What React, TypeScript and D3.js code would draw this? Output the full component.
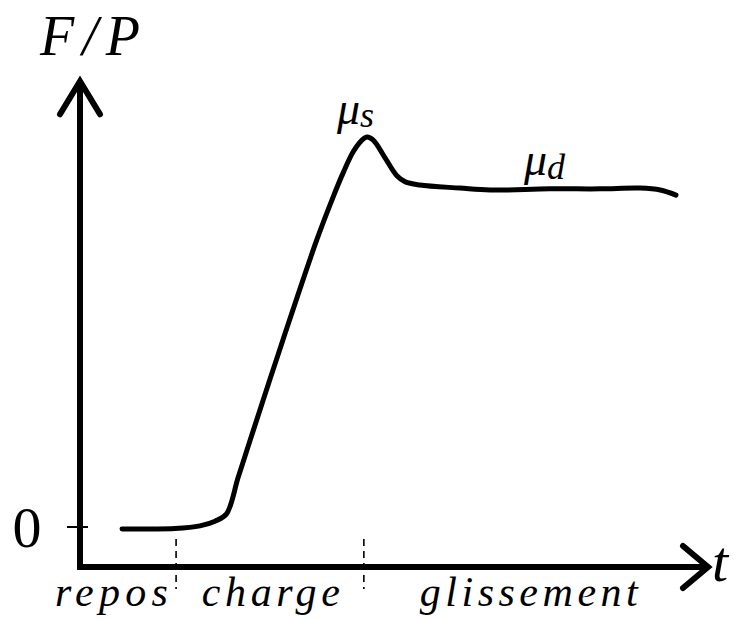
import { curveCatmullRom, line, scaleLinear } from "d3";

const W = 751;
const H = 619;

// time (0..100) and F/P (0 = rest, 1 = static peak)
const tValues = [
  6.7, 11.2, 15.1, 19.1, 21.5, 23.3, 25.2, 27.1, 29.6, 32.3, 37.7, 40.3, 41.9,
  43.5, 44.9, 45.7, 46.7, 48.6, 50.5, 51.8, 54.1, 60.5, 65.3, 74.8, 82.8, 89.2,
  92.4, 94.9,
];
const fpValues = [
  -0.005, -0.005, -0.004, 0.003, 0.015, 0.033, 0.128, 0.223, 0.347, 0.479,
  0.736, 0.846, 0.908, 0.962, 0.992, 1.0, 0.992, 0.946, 0.9, 0.885, 0.877,
  0.869, 0.864, 0.867, 0.867, 0.869, 0.864, 0.851,
];
// phase boundaries on the time axis
const phaseBounds = [15.3, 45.2];
const phaseLabels = ["repos", "charge", "glissement"];
const phaseLabelT = [-4.0, 19.4, 54.1];
const phaseLabelW = [113, 138, 218];

const FONT = "'Liberation Serif', 'DejaVu Serif', serif";

export default function App() {
  const x = scaleLinear().domain([0, 100]).range([80, 708]);
  const y = scaleLinear().domain([0, 1]).range([527, 137]);

  const axisY = y(-0.1026);
  const topY = y(1.143);
  const x0 = x(0);
  const xEnd = x(100);

  const pts = tValues.map((t, i) => [t, fpValues[i]] as [number, number]);
  const path = line<[number, number]>()
    .x((d) => x(d[0]))
    .y((d) => y(d[1]))
    .curve(curveCatmullRom.alpha(0.5))(pts);

  return (
    <svg
      width={W}
      height={H}
      style={{ position: "absolute", left: 0, top: 0, background: "#fff" }}
    >
      {/* dashed phase separators */}
      {phaseBounds.map((b, i) => (
        <line
          key={i}
          x1={x(b)}
          x2={x(b)}
          y1={axisY - 28}
          y2={axisY + 22}
          stroke="#000"
          strokeWidth={1.6}
          strokeDasharray="7 5"
        />
      ))}

      {/* axes */}
      <path
        d={`M${x0},${topY + 3}L${x0},${axisY}L${xEnd - 2},${axisY}`}
        fill="none"
        stroke="#000"
        strokeWidth={6}
        strokeLinejoin="miter"
      />
      <path
        d={`M${x0 - 20},${topY + 33}L${x0},${topY}L${x0 + 20},${topY + 33}`}
        fill="none"
        stroke="#000"
        strokeWidth={6}
        strokeLinecap="round"
        strokeLinejoin="miter"
      />
      <path
        d={`M${xEnd - 25},${axisY - 21}L${xEnd},${axisY}L${xEnd - 25},${axisY + 21}`}
        fill="none"
        stroke="#000"
        strokeWidth={6}
        strokeLinecap="round"
        strokeLinejoin="miter"
      />

      {/* zero tick */}
      <line x1={x0 - 13} x2={x0 + 8} y1={y(0)} y2={y(0)} stroke="#000" strokeWidth={2} />
      <text
        x={27}
        y={y(0) + 20}
        fontFamily={FONT}
        fontSize={58}
        textAnchor="middle"
      >
        0
      </text>

      {/* curve */}
      <path
        d={path ?? undefined}
        fill="none"
        stroke="#000"
        strokeWidth={5}
        strokeLinecap="round"
        strokeLinejoin="round"
      />

      {/* axis titles */}
      <text x={40} y={55} fontFamily={FONT} fontStyle="italic" fontSize={56} textLength={100} lengthAdjust="spacing">
        F/P
      </text>
      <text x={712} y={581} fontFamily={FONT} fontStyle="italic" fontSize={58}>
        t
      </text>

      {/* phase labels */}
      {phaseLabels.map((l, i) => (
        <text
          key={l}
          x={x(phaseLabelT[i])}
          y={606}
          fontFamily={FONT}
          fontStyle="italic"
          fontSize={42}
          textLength={phaseLabelW[i]}
          lengthAdjust="spacing"
        >
          {l}
        </text>
      ))}

      {/* friction coefficients */}
      <text x={337} y={124} fontFamily={FONT} fontStyle="italic" fontSize={46}>
        μ<tspan fontSize={36} dy={3}>s</tspan>
      </text>
      <text x={524} y={175} fontFamily={FONT} fontStyle="italic" fontSize={46}>
        μ<tspan fontSize={36} dy={4}>d</tspan>
      </text>
    </svg>
  );
}
